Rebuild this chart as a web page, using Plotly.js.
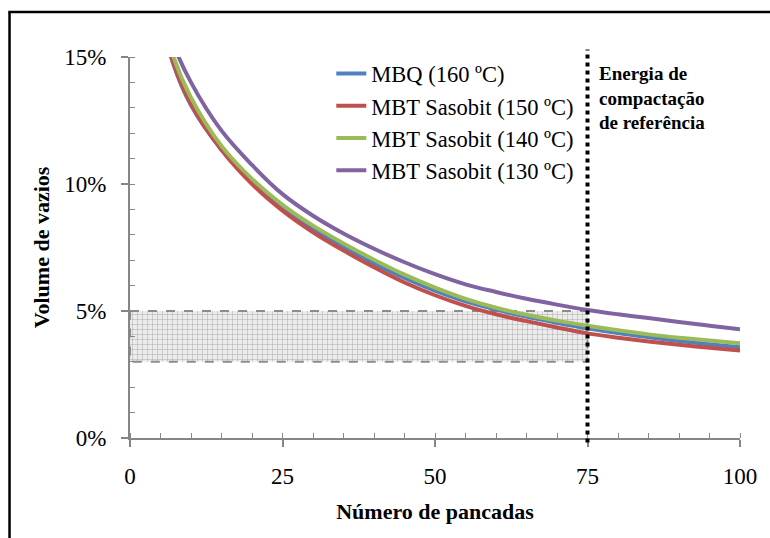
<!DOCTYPE html>
<html>
<head>
<meta charset="utf-8">
<script src="https://cdn.plot.ly/plotly-3.0.1.min.js"></script>
<style>html,body{margin:0;padding:0;background:#fff;}#chart{width:770px;height:538px;}</style>
</head>
<body>
<div id="chart"></div>
<script>
// Número de pancadas (blows)
const blows = [5, 7, 10, 15, 20, 25, 30, 35, 40, 45, 50, 55, 60, 65, 70, 75, 80, 85, 90, 95, 100];
// Volume de vazios (%)
const mbq160   = [16.8, 14.8, 13.1, 11.35, 10.05, 9.05, 8.22, 7.5, 6.87, 6.3, 5.8, 5.38, 5.06, 4.78, 4.54, 4.32, 4.13, 3.97, 3.82, 3.69, 3.57];
const mbt150   = [16.85, 14.85, 13.15, 11.35, 10.0, 8.95, 8.1, 7.38, 6.72, 6.12, 5.62, 5.2, 4.87, 4.6, 4.35, 4.12, 3.95, 3.8, 3.67, 3.55, 3.44];
const mbt140   = [17.1, 15.1, 13.4, 11.5, 10.2, 9.18, 8.36, 7.66, 7.02, 6.43, 5.92, 5.48, 5.13, 4.85, 4.62, 4.42, 4.24, 4.08, 3.95, 3.84, 3.73];
const mbt130   = [17.7, 15.6, 14.0, 12.1, 10.75, 9.6, 8.75, 8.05, 7.45, 6.92, 6.45, 6.05, 5.75, 5.48, 5.25, 5.04, 4.87, 4.72, 4.57, 4.42, 4.28];
const seriesNames = ["MBQ (160 ºC)", "MBT Sasobit (150 ºC)", "MBT Sasobit (140 ºC)", "MBT Sasobit (130 ºC)"];
const seriesColors = ["#4F81BD", "#C0504D", "#9BBB59", "#8064A2"];
// Reference band and reference compaction energy
const refVoidsLow = 3, refVoidsHigh = 5;
const refBlows = 75;
const xTickVals = [0, 25, 50, 75, 100];
const yTickVals = [0, 5, 10, 15];
const yTickText = ["0%", "5%", "10%", "15%"];

const serif = "'Liberation Serif', 'Times New Roman', serif";

const band = {
  x: [0, refBlows, refBlows, 0, 0],
  y: [refVoidsHigh, refVoidsHigh, refVoidsLow, refVoidsLow, refVoidsHigh],
  mode: 'lines', fill: 'toself', showlegend: false, hoverinfo: 'skip',
  fillcolor: '#ececec',
  fillpattern: {shape: '+', size: 5, solidity: 0.15, fgcolor: '#9a9a9a', bgcolor: '#ececec'},
  line: {color: '#8c8c8c', width: 2, dash: 'dash'}
};

const all = [mbq160, mbt150, mbt140, mbt130];
const traces = [band].concat(all.map((ys, i) => ({
  x: blows, y: ys, name: seriesNames[i], mode: 'lines',
  line: {color: seriesColors[i], width: 4, shape: 'spline', smoothing: 1},
  legendgroup: 'g' + i
})));

const layout = {
  width: 770, height: 538,
  margin: {l: 130, r: 30, t: 57, b: 100},
  paper_bgcolor: '#fff', plot_bgcolor: '#fff',
  font: {family: serif, color: '#000', size: 22},
  showlegend: true,
  legend: {x: 0.33, y: 1.012, xanchor: 'left', yanchor: 'top', bgcolor: 'rgba(0,0,0,0)',
           font: {family: serif, size: 22.5}, tracegroupgap: 0},
  xaxis: {
    range: [0, 100], tickvals: xTickVals, showgrid: false, zeroline: false,
    showline: true, linecolor: '#868686', linewidth: 2,
    ticks: 'outside', ticklen: 7, tickwidth: 2, tickcolor: '#868686',
    ticklabelstandoff: 9,
    tickfont: {family: serif, size: 23},
    minor: {dtick: 5, ticks: 'inside', ticklen: 5, tickwidth: 1, tickcolor: '#868686', showgrid: false},
    title: {text: 'Número de pancadas', font: {family: serif, size: 22, weight: 'bold'}, standoff: 16}
  },
  yaxis: {
    range: [0, 15], tickvals: yTickVals, ticktext: yTickText, showgrid: false, zeroline: false,
    showline: true, linecolor: '#868686', linewidth: 2,
    ticks: 'outside', ticklen: 7, tickwidth: 2, tickcolor: '#868686',
    ticklabelstandoff: 10,
    tickfont: {family: serif, size: 23},
    minor: {dtick: 1, ticks: 'inside', ticklen: 5, tickwidth: 1, tickcolor: '#868686', showgrid: false},
    title: {text: 'Volume de vazios', font: {family: serif, size: 22, weight: 'bold'}, standoff: 9}
  },
  shapes: [
    {type: 'line', xref: 'x', yref: 'paper', x0: refBlows, x1: refBlows, y0: -0.012, y1: 1.02,
     line: {color: '#000', width: 4, dash: 'dot'}},
    {type: 'line', xref: 'paper', yref: 'paper', x0: -0.1975, x1: -0.1975, y0: -0.35, y1: 1.118,
     line: {color: '#000', width: 2.5}},
    {type: 'line', xref: 'paper', yref: 'paper', x0: -0.1995, x1: 1.2, y0: 1.118, y1: 1.118,
     line: {color: '#000', width: 2.5}}
  ],
  annotations: [
    {xref: 'x', yref: 'paper', x: 76.6, y: 0.99, xanchor: 'left', yanchor: 'top', align: 'left',
     showarrow: false, text: '<b>Energia de<br>compactação<br>de referência</b>',
     font: {family: serif, size: 19, color: '#000'}}
  ]
};

Plotly.newPlot('chart', traces, layout, {displayModeBar: false, staticPlot: true});
</script>
</body>
</html>
